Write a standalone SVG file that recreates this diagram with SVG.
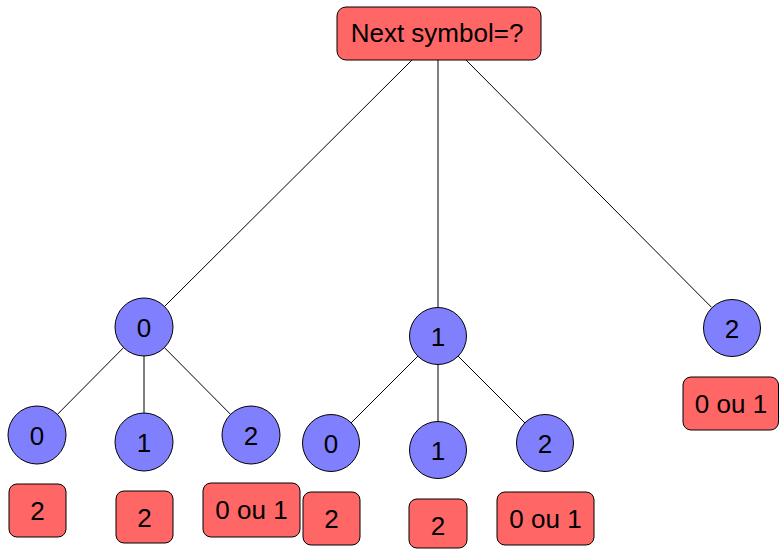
<svg xmlns="http://www.w3.org/2000/svg" width="779" height="549" viewBox="0 0 779 549">
  <style>
    .box { fill: #ff6666; stroke: #000; stroke-width: 1; }
    .sym { fill: #8080ff; stroke: #000; stroke-width: 1; }
    .edge { stroke: #000; stroke-width: 1; fill: none; }
    text { font-family: "Liberation Sans", Arial, sans-serif; font-size: 26px; fill: #000; text-anchor: middle; }
  </style>
  <rect width="779" height="549" fill="#fff"/>

  <g id="connectors">
    <line class="edge" x1="412" y1="60" x2="164.5" y2="306.5"/>
    <line class="edge" x1="438" y1="60" x2="438" y2="308"/>
    <line class="edge" x1="466" y1="60" x2="711.6" y2="307.4"/>
    <line class="edge" x1="123.6" y1="347.6" x2="57.4" y2="414.4"/>
    <line class="edge" x1="144" y1="356" x2="144" y2="413"/>
    <line class="edge" x1="164.4" y1="347.6" x2="230.6" y2="414.4"/>
    <line class="edge" x1="418" y1="356" x2="351" y2="423"/>
    <line class="edge" x1="438" y1="364" x2="438" y2="421"/>
    <line class="edge" x1="458" y1="356" x2="525" y2="423"/>
  </g>

  <g id="root">
    <rect class="box" x="337" y="7" width="204" height="53" rx="9"/>
    <text x="437" y="42">Next symbol=?</text>
  </g>

  <g id="n0">
    <circle class="sym" cx="144" cy="327" r="29"/>
    <text x="144" y="337">0</text>
  </g>
  <g id="n1">
    <circle class="sym" cx="438" cy="336" r="28.5"/>
    <text x="438" y="346">1</text>
  </g>
  <g id="n2">
    <circle class="sym" cx="732" cy="328" r="28.5"/>
    <text x="732" y="338">2</text>
  </g>

  <g id="n00">
    <circle class="sym" cx="37" cy="435" r="29"/>
    <text x="37" y="445">0</text>
  </g>
  <g id="n01">
    <circle class="sym" cx="144" cy="442" r="29"/>
    <text x="144" y="452">1</text>
  </g>
  <g id="n02">
    <circle class="sym" cx="251" cy="435" r="29"/>
    <text x="251" y="445">2</text>
  </g>
  <g id="n10">
    <circle class="sym" cx="331" cy="443" r="28.5"/>
    <text x="331" y="453">0</text>
  </g>
  <g id="n11">
    <circle class="sym" cx="438" cy="450" r="28.5"/>
    <text x="438" y="460">1</text>
  </g>
  <g id="n12">
    <circle class="sym" cx="545" cy="443" r="28.5"/>
    <text x="545" y="453">2</text>
  </g>

  <g id="r00">
    <rect class="box" x="9" y="484" width="57" height="53" rx="8"/>
    <text x="37.5" y="520">2</text>
  </g>
  <g id="r01">
    <rect class="box" x="116" y="491" width="57" height="52" rx="8"/>
    <text x="144.5" y="527">2</text>
  </g>
  <g id="r02">
    <rect class="box" x="203" y="483" width="97" height="54" rx="8"/>
    <text x="251.5" y="519">0 ou 1</text>
  </g>
  <g id="r10">
    <rect class="box" x="303" y="492" width="57" height="53" rx="8"/>
    <text x="331.5" y="528">2</text>
  </g>
  <g id="r11">
    <rect class="box" x="409" y="499" width="58" height="49" rx="8"/>
    <text x="438" y="535">2</text>
  </g>
  <g id="r12">
    <rect class="box" x="497" y="492" width="97" height="53" rx="8"/>
    <text x="545.5" y="528">0 ou 1</text>
  </g>
  <g id="r2">
    <rect class="box" x="683" y="377" width="95.5" height="53" rx="8"/>
    <text x="731" y="413">0 ou 1</text>
  </g>
</svg>
